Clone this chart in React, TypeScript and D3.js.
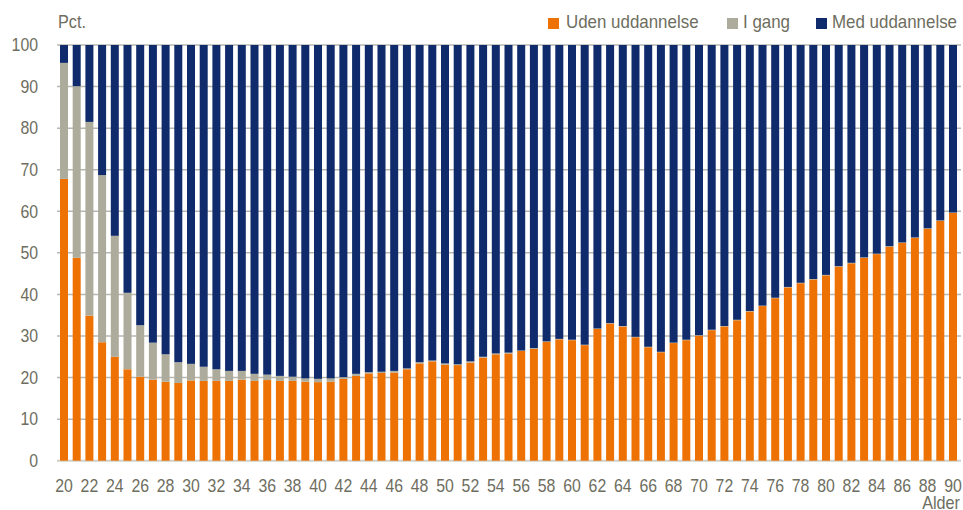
import React from "react";
import * as d3 from "d3";

const ages: number[] = d3.range(20, 91);

const udenUddannelse: number[] = [
  67.8, 48.8, 34.9, 28.5, 25.0, 22.0, 20.2, 19.5, 19.0, 18.7,
  19.3, 19.2, 19.2, 19.2, 19.5, 19.2, 19.4, 19.2, 19.2, 19.0,
  18.9, 19.0, 19.7, 20.4, 21.0, 21.1, 21.2, 22.0, 23.4, 23.9,
  23.1, 23.0, 23.6, 24.8, 25.6, 25.8, 26.4, 26.9, 28.6, 29.2,
  29.0, 27.8, 31.7, 33.0, 32.3, 29.7, 27.3, 26.1, 28.3, 29.0,
  30.1, 31.4, 32.3, 33.8, 35.9, 37.2, 39.1, 41.7, 42.7, 43.6,
  44.6, 46.7, 47.5, 48.8, 49.7, 51.5, 52.4, 53.6, 55.8, 57.7,
  59.6,
];

const iGang: number[] = [
  27.9, 41.3, 46.6, 40.2, 29.1, 18.4, 12.4, 8.9, 6.6, 5.0,
  4.0, 3.4, 2.8, 2.4, 2.1, 1.7, 1.3, 1.2, 1.0, 0.8,
  0.8, 0.8, 0.4, 0.5, 0.3, 0.3, 0.4, 0.2, 0.3, 0.2,
  0.3, 0.2, 0.3, 0.2, 0.2, 0.2, 0.1, 0.2, 0.1, 0.1,
  0.1, 0.1, 0.1, 0.1, 0.1, 0.1, 0.1, 0.1, 0.1, 0.1,
  0.1, 0.1, 0.1, 0.1, 0.1, 0.1, 0.1, 0.1, 0.1, 0.1,
  0.1, 0.1, 0.1, 0.1, 0.1, 0.1, 0.1, 0.1, 0.1, 0.1,
  0.1,
];

const medUddannelse: number[] = ages.map((_, i) => 100 - udenUddannelse[i] - iGang[i]);

const seriesNames: string[] = ["Uden uddannelse", "I gang", "Med uddannelse"];
const seriesColors: string[] = ["#EE7203", "#ADAC9C", "#0F2B6B"];
const yTicks: number[] = d3.range(0, 101, 10);
const xTickAges: number[] = ages.filter((a) => a % 2 === 0);

const FONT = "'Liberation Sans', Arial, sans-serif";
const TEXT = "#6E6E60";

function T(props: {
  x: number;
  y: number;
  anchor?: "start" | "middle" | "end";
  sx?: number;
  dy?: string;
  children: React.ReactNode;
}) {
  const { x, y, anchor = "start", sx = 0.9, dy, children } = props;
  return (
    <text
      transform={`translate(${x},${y}) scale(${sx},1)`}
      dy={dy}
      textAnchor={anchor}
      fontSize={18}
      fill={TEXT}
    >
      {children}
    </text>
  );
}

export default function App() {
  const W = 963;
  const H = 510;
  const x = d3
    .scaleBand<number>()
    .domain(ages)
    .range([57.65, 959.35])
    .paddingInner(0.37)
    .paddingOuter(0.185);
  const y = d3.scaleLinear().domain([0, 100]).range([460.7, 45]);

  const rows = ages.map((age, i) => ({
    age,
    uden: udenUddannelse[i],
    igang: iGang[i],
    med: medUddannelse[i],
  }));
  const stack = d3.stack<any>().keys(["uden", "igang", "med"]);
  const layers = stack(rows);

  const legendSquareX = [548, 727, 816];
  const legendTextX = [566, 743, 832];

  return (
    <svg
      width={W}
      height={H}
      style={{ position: "absolute", left: 0, top: 0, background: "#fff" }}
      fontFamily={FONT}
    >
      {yTicks.map((t) => (
        <g key={t}>
          <line
            x1={57}
            x2={961}
            y1={y(t)}
            y2={y(t)}
            stroke={t === 0 ? "#D0D0C8" : "#B8B8B0"}
            strokeWidth={t === 0 ? 2 : 1.5}
          />
          <T x={38} y={y(t)} dy="0.35em" anchor="end" sx={0.88}>
            {t}
          </T>
        </g>
      ))}
      {layers.map((layer, li) => (
        <g key={li} fill={seriesColors[li]}>
          {layer.map((d: any) => (
            <rect
              key={d.data.age}
              x={x(d.data.age)}
              width={x.bandwidth()}
              y={y(d[1])}
              height={Math.max(0, y(d[0]) - y(d[1]))}
            />
          ))}
        </g>
      ))}
      {xTickAges.map((a) => (
        <T key={a} x={(x(a) as number) + x.bandwidth() / 2} y={492} anchor="middle" sx={0.88}>
          {a}
        </T>
      ))}
      <T x={960} y={509} anchor="end" sx={0.9}>
        Alder
      </T>
      <T x={58} y={28} sx={0.9}>
        Pct.
      </T>
      {seriesNames.map((n, i) => (
        <g key={n}>
          <rect x={legendSquareX[i]} y={18} width={11} height={11} fill={seriesColors[i]} />
          <T x={legendTextX[i]} y={28} sx={0.94}>
            {n}
          </T>
        </g>
      ))}
    </svg>
  );
}
